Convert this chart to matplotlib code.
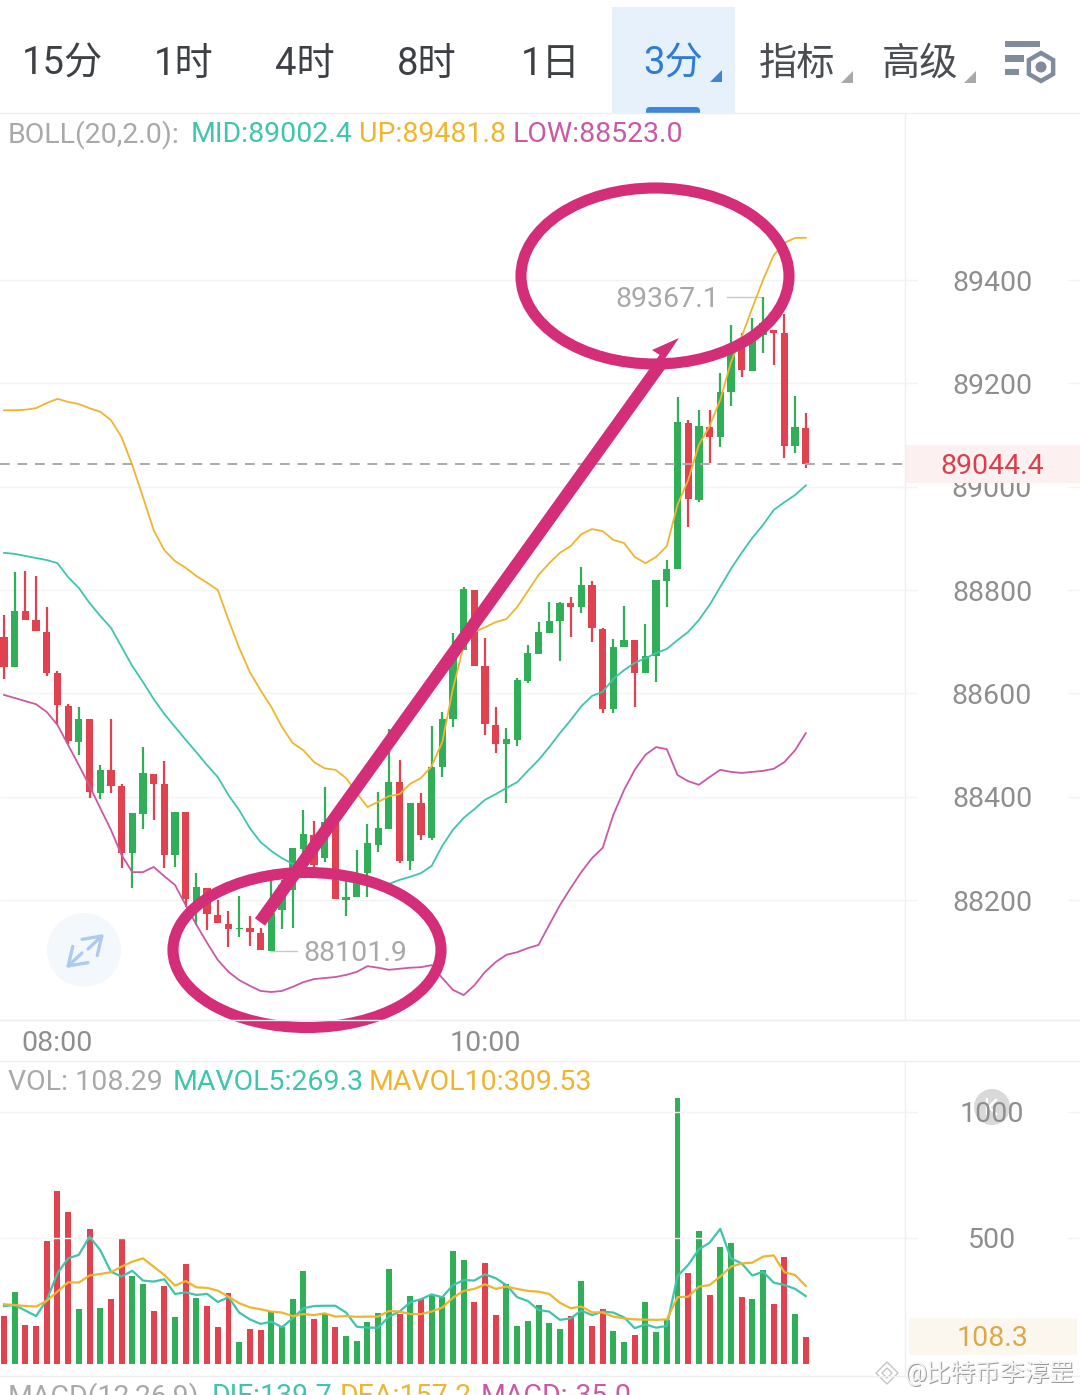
import matplotlib
matplotlib.use('Agg')
import matplotlib.pyplot as plt
from matplotlib.patches import Ellipse, Rectangle, Circle, Polygon, RegularPolygon, FancyBboxPatch
import numpy as np

plt.rcParams['font.family'] = ['Roboto', 'Noto Sans CJK SC', 'DejaVu Sans']

# harga candle 3 menit
highs = [88752, 88835, 88837, 88827, 88767, 88643, 88579, 88574, 88550, 88461, 88550, 88425, 88368, 88496, 88444,
         88469, 88370, 88370, 88252, 88223, 88200, 88179, 88208, 88169, 88146, 88243, 88239, 88301, 88374, 88353,
         88419, 88351, 88243, 88297, 88347, 88409, 88531, 88471, 88388, 88407, 88537, 88564, 88717, 88806, 88800,
         88707, 88574, 88533, 88630, 88694, 88738, 88777, 88777, 88787, 88845, 88817, 88727, 88705, 88769, 88703,
         88734, 88819, 88858, 89174, 89129, 89148, 89148, 89220, 89313, 89297, 89327, 89367.1, 89303, 89334, 89176,
         89143]
lows = [88628, 88651, 88742, 88721, 88634, 88539, 88502, 88481, 88397, 88396, 88407, 88262, 88223, 88337, 88355,
        88262, 88264, 88186, 88152, 88142, 88155, 88109, 88128, 88111, 88103, 88101.9, 88144, 88146, 88277, 88258,
        88274, 88202, 88169, 88206, 88206, 88293, 88337, 88272, 88258, 88316, 88316, 88438, 88535, 88684, 88653,
        88519, 88485, 88388, 88498, 88620, 88676, 88717, 88663, 88709, 88756, 88699, 88562, 88562, 88690, 88574,
        88639, 88622, 88767, 88841, 88922, 88970, 89046, 89077, 89156, 89212, 89224, 89259, 89236, 89056, 89065,
        89036]
opens = [88709, 88651, 88759, 88742, 88719, 88639, 88575, 88506, 88550, 88407, 88452, 88421, 88291, 88367, 88444,
         88425, 88287, 88370, 88186, 88223, 88171, 88154, 88144, 88146, 88136, 88102, 88181, 88219, 88299, 88326,
         88281, 88351, 88200, 88206, 88252, 88306, 88337, 88428, 88276, 88388, 88320, 88457, 88550, 88684, 88800,
         88653, 88539, 88502, 88510, 88624, 88676, 88717, 88740, 88775, 88767, 88810, 88725, 88570, 88690, 88703,
         88639, 88672, 88817, 88841, 89123, 88974, 89116, 89096, 89183, 89278, 89224, 89294, 89303, 89297, 89079,
         89114]
closes = [88651, 88759, 88742, 88721, 88639, 88577, 88508, 88550, 88409, 88452, 88421, 88291, 88368, 88446, 88425,
          88287, 88370, 88202, 88225, 88173, 88155, 88144, 88146, 88138, 88103, 88175, 88229, 88301, 88328, 88268,
          88351, 88202, 88206, 88235, 88310, 88339, 88428, 88276, 88388, 88326, 88457, 88550, 88670, 88802, 88653,
          88541, 88502, 88512, 88626, 88678, 88719, 88740, 88775, 88767, 88810, 88727, 88570, 88690, 88703, 88639,
          88672, 88819, 88841, 89125, 88976, 89117, 89096, 89183, 89259, 89226, 89297, 89317, 89297, 89079, 89116,
          89044.4]

# garis BOLL
boll_up = [89148, 89148, 89149, 89152, 89162, 89170, 89164, 89160, 89152, 89145, 89129, 89096, 89042, 88980, 88916,
           88877, 88856, 88843, 88827, 88814, 88800, 88742, 88688, 88641, 88606, 88574, 88535, 88504, 88490, 88467,
           88455, 88452, 88436, 88407, 88380, 88390, 88401, 88405, 88425, 88436, 88459, 88506, 88610, 88692, 88719,
           88728, 88738, 88744, 88767, 88798, 88829, 88852, 88872, 88885, 88908, 88918, 88914, 88897, 88891, 88864,
           88852, 88864, 88885, 88965, 89013, 89081, 89117, 89168, 89241, 89290, 89346, 89400, 89448, 89472, 89481.4,
           89481.8]
boll_mid = [88872, 88870, 88866, 88862, 88858, 88852, 88825, 88804, 88775, 88750, 88727, 88690, 88653, 88622, 88589,
            88560, 88535, 88510, 88486, 88461, 88438, 88403, 88374, 88339, 88312, 88295, 88281, 88270, 88260, 88252,
            88246, 88241, 88237, 88233, 88229, 88229, 88231, 88239, 88245, 88252, 88266, 88305, 88336, 88359, 88376,
            88394, 88405, 88417, 88428, 88450, 88471, 88496, 88523, 88548, 88575, 88595, 88603, 88628, 88645, 88659,
            88668, 88678, 88686, 88703, 88719, 88742, 88771, 88806, 88841, 88872, 88901, 88926, 88955, 88970, 88984,
            89002.4]
boll_low = [88597, 88591, 88585, 88579, 88564, 88539, 88500, 88461, 88421, 88378, 88336, 88287, 88254, 88254, 88264,
            88246, 88229, 88190, 88152, 88117, 88084, 88061, 88045, 88034, 88024, 88022, 88024, 88032, 88041, 88047,
            88049, 88051, 88055, 88061, 88072, 88069, 88065, 88067, 88069, 88070, 88074, 88049, 88026, 88016, 88035,
            88061, 88080, 88094, 88099, 88107, 88113, 88152, 88190, 88223, 88254, 88281, 88301, 88365, 88413, 88452,
            88481, 88496, 88492, 88442, 88430, 88423, 88438, 88452, 88448, 88446, 88448, 88450, 88454, 88467, 88490,
            88523.0]

# volume
volumes = [192, 287, 155, 152, 488, 687, 602, 218, 534, 224, 258, 499, 348, 316, 210, 308, 185, 397, 262, 231,
           146, 280, 86, 139, 135, 208, 148, 257, 368, 180, 198, 146, 112, 91, 165, 201, 378, 198, 270, 258,
           274, 267, 447, 413, 246, 402, 193, 316, 152, 171, 234, 163, 138, 192, 328, 152, 217, 131, 86, 115,
           245, 128, 175, 1056, 360, 529, 274, 466, 479, 267, 258, 372, 238, 426, 197, 108.29]
mavol5 = [230, 234, 212, 190, 254, 360, 419, 433, 505, 452, 366, 347, 370, 331, 327, 336, 278, 284, 274, 278,
          246, 265, 204, 177, 159, 168, 146, 181, 221, 230, 231, 231, 204, 148, 144, 144, 188, 208, 245, 257,
          276, 265, 313, 333, 331, 356, 340, 313, 265, 250, 214, 208, 175, 181, 212, 194, 208, 204, 185, 142,
          157, 144, 151, 349, 393, 455, 481, 536, 419, 399, 351, 366, 323, 313, 298, 269.3]
mavol10 = [237, 234, 230, 228, 251, 287, 324, 323, 351, 357, 364, 386, 406, 419, 386, 353, 311, 329, 304, 302,
           291, 267, 241, 225, 217, 208, 204, 190, 198, 194, 201, 188, 190, 187, 188, 188, 210, 208, 198, 198,
           208, 224, 263, 290, 298, 316, 298, 307, 298, 290, 287, 278, 243, 221, 228, 205, 204, 188, 181, 177,
           176, 175, 177, 265, 267, 307, 313, 347, 386, 399, 402, 426, 431, 364, 353, 309.53]

price_ticks = [88200, 88400, 88600, 88800, 89000, 89200, 89400]
vol_ticks = [500, 1000]
time_pos = [5, 45]
time_labels = ['08:00', '10:00']
tabs = ['15分', '1时', '4时', '8时', '1日']
tabs_x = [22, 154, 275, 397, 521]

RED = '#e0434f'
GREEN = '#30ae58'
TEAL = '#3fc4ad'
YELLOW = '#efb52e'
PINK = '#cb58a6'
MARK = '#d42e78'
GRID = '#f3f3f3'
LABEL = '#8e8e8e'
W, H = 1080, 1395
FS = 20.5
X0, X1 = -0.374, 100.65

idx = np.arange(len(closes))
o = np.array(opens)
c = np.array(closes)
warna = [GREEN if a > b else RED for a, b in zip(c, o)]

fig = plt.figure(figsize=(10.8, 13.95), dpi=100, facecolor='white')


def pixel_axes(top, bottom, zorder):
    a = fig.add_axes([0, 1 - bottom / H, 1, (bottom - top) / H], zorder=zorder)
    a.patch.set_alpha(0)
    for s in a.spines.values():
        s.set_visible(False)
    a.set_xlim(X0, X1)
    a.yaxis.tick_right()
    a.tick_params(axis='y', length=0, pad=-(W - 992) * 0.72, labelsize=FS, labelcolor=LABEL)
    a.tick_params(axis='x', length=0)
    return a


# chart harga
ax = pixel_axes(113, 1020, 1)
ax.set_ylim(87967.8, 89723.3)
ax.set_yticks(price_ticks)
for t in ax.get_yticklabels():
    t.set_ha('center')
ax.set_xticks(time_pos)
ax.set_xticklabels(time_labels, fontsize=FS, color=LABEL)
ax.tick_params(axis='x', pad=7.5)
ax.hlines(price_ticks, X0, 85.4, color=GRID, lw=1)
ax.hlines(price_ticks, 99.5, X1, color=GRID, lw=1)
ax.vlines(idx, lows, highs, color=warna, lw=1.6, zorder=3)
ax.bar(idx, c - o, bottom=o, width=0.68, color=warna, linewidth=0, zorder=3)
ax.plot(idx, boll_up, color=YELLOW, lw=1.3, zorder=4)
ax.plot(idx, boll_mid, color=TEAL, lw=1.3, zorder=4)
ax.plot(idx, boll_low, color=PINK, lw=1.3, zorder=4)
ax.hlines(closes[-1], X0, 84.3, color='#aaaaaa', lw=1.4, linestyles=(0, (5, 4)), zorder=5)

# label tertinggi dan terendah
ax.plot([67.6, 70.8], [highs[71], highs[71]], color='#c9c9c9', lw=1)
ax.annotate('89367.1', (66.9, highs[71]), xytext=(0, -2), textcoords='offset pixels',
            fontsize=FS, color='#a8a8a8', ha='right', va='center')
ax.plot([25, 27.4], [lows[25], lows[25]], color='#c9c9c9', lw=1)
ax.annotate('88101.9', (28, lows[25]), xytext=(0, -3), textcoords='offset pixels',
            fontsize=FS, color='#a8a8a8', ha='left', va='center')

# chart volume
vx = pixel_axes(1062, 1364, 3)
vx.set_ylim(0, 1198)
vx.set_yticks(vol_ticks)
for t in vx.get_yticklabels():
    t.set_ha('center')
vx.set_xticks([])
vx.hlines(vol_ticks, X0, 85.4, color=GRID, lw=1)
vx.hlines(vol_ticks, 99.5, X1, color=GRID, lw=1)
vx.bar(idx, volumes, width=0.56, color=warna, linewidth=0)
vx.plot(idx, mavol5, color=TEAL, lw=1.6)
vx.plot(idx, mavol10, color=YELLOW, lw=1.6)

# lapisan UI dan coretan
ov = fig.add_axes([0, 0, 1, 1], zorder=2)
ov.set_xlim(0, W)
ov.set_ylim(H, 0)
ov.axis('off')
ov.patch.set_alpha(0)

ov.add_patch(Rectangle((612, 7), 123, 106, color='#e7f1fc', lw=0))
ov.add_patch(FancyBboxPatch((646, 107), 54, 12, boxstyle='round,pad=0,rounding_size=4', color='#3f86da', lw=0))
ov.add_patch(Rectangle((640, 113), 70, 8, color='white', lw=0))
for x, s in zip(tabs_x, tabs):
    ov.text(x, 64, s, fontsize=27.5, color='#3d4044', va='center')
ov.text(643, 64, '3分', fontsize=27.5, color='#2f7cd6', va='center')
ov.text(759, 64, '指标', fontsize=27.5, color='#4a4d52', va='center')
ov.text(882, 64, '高级', fontsize=27.5, color='#4a4d52', va='center')
ov.add_patch(Polygon([(710, 82), (722, 82), (722, 70)], color='#3f86da', lw=0))
ov.add_patch(Polygon([(841, 83), (853, 83), (853, 71)], color='#a9a9a9', lw=0))
ov.add_patch(Polygon([(964, 83), (976, 83), (976, 71)], color='#a9a9a9', lw=0))
ov.add_patch(Rectangle((1005, 41), 35, 6, color='#808b9b', lw=0))
ov.add_patch(Rectangle((1005, 55), 19, 7, color='#808b9b', lw=0))
ov.add_patch(Rectangle((1005, 69), 14, 6, color='#808b9b', lw=0))
ov.add_patch(RegularPolygon((1041, 67), 6, radius=14, fill=False, ec='#808b9b', lw=3.2))
ov.add_patch(Circle((1041, 67), 5.5, color='#808b9b', lw=0))

# garis pemisah
for y in (113, 1020, 1061, 1376):
    ov.plot([0, W], [y, y], color='#efefef', lw=1)
ov.plot([905, 905], [113, 1020], color='#efefef', lw=1)
ov.plot([905, 905], [1062, 1376], color='#efefef', lw=1)

# baris indikator
ov.text(8, 135, 'BOLL(20,2.0):', fontsize=FS, color='#a9a9a9', va='center')
ov.text(191, 135, 'MID:89002.4', fontsize=FS, color=TEAL, va='center')
ov.text(359, 135, 'UP:89481.8', fontsize=FS, color=YELLOW, va='center')
ov.text(513, 135, 'LOW:88523.0', fontsize=FS, color=PINK, va='center')
ov.text(8, 1083, 'VOL: 108.29', fontsize=FS, color='#a9a9a9', va='center')
ov.text(173, 1083, 'MAVOL5:269.3', fontsize=FS, color=TEAL, va='center')
ov.text(369, 1083, 'MAVOL10:309.53', fontsize=FS, color=YELLOW, va='center')
ov.text(8, 1397, 'MACD(12,26,9)', fontsize=FS, color='#a9a9a9', va='center')
ov.text(212, 1397, 'DIF:139.7', fontsize=FS, color=TEAL, va='center')
ov.text(340, 1397, 'DEA:157.2', fontsize=FS, color=YELLOW, va='center')
ov.text(481, 1397, 'MACD:-35.0', fontsize=FS, color=PINK, va='center')

# tag harga terakhir dan volume terakhir
ov.add_patch(Rectangle((905, 445), 175, 38, color='#fdf0f0', lw=0))
ov.text(992, 466, '89044.4', fontsize=FS, color='#d8404e', ha='center', va='center')
ov.add_patch(Rectangle((909, 1318), 168, 37, color='#fbf7ef', lw=0))
ov.text(992, 1339, '108.3', fontsize=FS, color='#d9a94a', ha='center', va='center')

# tombol K dan tombol perbesar
ov.add_patch(Circle((992, 1107), 18, color='#d9d9d9', lw=0))
ov.plot([996, 989, 996], [1100, 1107, 1114], color='white', lw=1.8)
ov.plot([987, 987], [1099, 1114], color='white', lw=1.6)
ov.add_patch(Circle((84, 950), 37, color='#f3f8fd', lw=0))
arrow_style = dict(arrowstyle='->,head_length=0.6,head_width=0.4', color='#aecbee', lw=2.4, mutation_scale=20, shrinkA=0, shrinkB=0)
ov.annotate('', xy=(104, 934), xytext=(88, 949), arrowprops=arrow_style)
ov.annotate('', xy=(66, 968), xytext=(82, 953), arrowprops=arrow_style)

# coretan magenta
ov.add_patch(Ellipse((307, 950), 268, 155, fill=False, ec=MARK, lw=8))
ov.add_patch(Ellipse((655, 276), 268, 176, fill=False, ec=MARK, lw=8))
ov.plot([260, 665], [922, 358], color=MARK, lw=9, solid_capstyle='butt')
ov.add_patch(Polygon([(679, 338), (652, 350), (677, 366), (660, 366)], color=MARK, lw=0))

# watermark
wm = ['@比特币李淳罡']
ov.text(906, 1373.8, wm[0], fontsize=17.7, color='#9a9a9a', va='center')
ov.text(905, 1373, wm[0], fontsize=17.7, color='#f4f4f4', va='center')
ov.add_patch(RegularPolygon((887, 1373), 4, radius=11, fill=False, ec='#c4c4c4', lw=1))
ov.add_patch(RegularPolygon((887, 1373), 4, radius=5, fill=False, ec='#c4c4c4', lw=1))

fig.savefig('out.png', dpi=100)
